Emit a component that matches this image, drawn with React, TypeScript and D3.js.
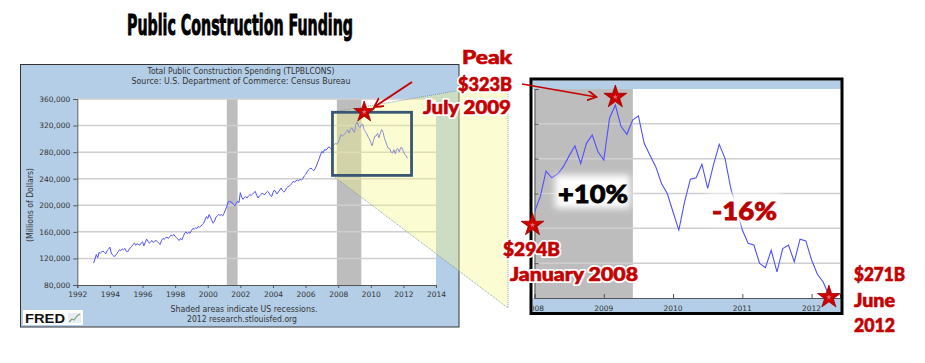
import React, { useEffect, useRef } from 'react'
import * as d3 from 'd3'

// Total Public Construction Spending, monthly, millions of dollars
const spending1993to1997 = [
  113000, 119000, 126000, 121000, 129000, 128000, 130000, 131000, 129000, 127000, 132000, 134000,
  137000, 128000, 125000, 123000, 124000, 127000, 130000, 133000, 132000, 134000, 133000, 135000,
  131000, 130000, 133000, 136000, 138000, 141000, 143000, 140000, 142000, 141000, 140000, 143000,
  145000, 139000, 144000, 149000, 146000, 143000, 145000, 147000, 144000, 146000, 147000, 145000,
  143000, 141000, 147000, 150000, 149000, 151000, 152000, 150000, 153000, 155000, 154000, 156000,
]
const spending1998to2002 = [
  153000, 151000, 149000, 147000, 150000, 148000, 153000, 158000, 160000, 157000, 159000, 158000,
  162000, 165000, 164000, 166000, 165000, 168000, 167000, 169000, 171000, 173000, 178000, 183000,
  180000, 186000, 182000, 177000, 173000, 176000, 182000, 184000, 186000, 185000, 186000, 184000,
  188000, 193000, 198000, 205000, 206000, 205000, 204000, 201000, 199000, 203000, 206000, 204000,
  219000, 212000, 209000, 212000, 213000, 211000, 214000, 216000, 215000, 217000, 219000, 221000,
]
const spending2003to2007 = [
  215000, 211000, 214000, 216000, 218000, 217000, 216000, 219000, 221000, 219000, 215000, 213000,
  219000, 223000, 220000, 217000, 220000, 223000, 226000, 222000, 220000, 222000, 226000, 228000,
  229000, 231000, 233000, 236000, 235000, 237000, 238000, 237000, 239000, 238000, 240000, 244000,
  246000, 250000, 253000, 255000, 256000, 254000, 252000, 255000, 259000, 265000, 270000, 276000,
  281000, 279000, 284000, 283000, 285000, 288000, 287000, 284000, 289000, 291000, 293000, 292000,
]
const spending2008to2012 = [
  294700, 299100, 306400, 304500, 305600, 307700, 310800, 313700, 308600, 314400, 316800, 312000,
  309600, 321600, 325400, 319200, 317000, 321100, 322300, 314400, 311000, 307700, 302900, 300000,
  294700, 289500, 297600, 304100, 304500, 308400, 301500, 308200, 314100, 310100, 301500, 295700,
  289500, 285700, 285200, 279900, 278700, 283700, 277500, 284200, 285200, 280400, 286900, 286400,
  280900, 276800, 274600, 270800,
]
const firstYear = 1993

const recessions = [[2001.17, 2001.83], [2007.92, 2009.42]]
const mainYTicks = [80000, 120000, 160000, 200000, 240000, 280000, 320000, 360000]
const mainXTicks = [1992, 1994, 1996, 1998, 2000, 2002, 2004, 2006, 2008, 2010, 2012, 2014]
const zoomYTicks = [270000, 280000, 290000, 300000, 310000, 320000, 330000]
const zoomXTicks = [2008, 2009, 2010, 2011, 2012]
const zoomWindow = { from: 2007.65, to: 2012.5, low: 245000, high: 340000 }

const red = '#c40000'

export default function App() {
  const ref = useRef<SVGSVGElement>(null)

  useEffect(() => {
    const svg = d3.select(ref.current)
    svg.selectAll('*').remove()

    const series = [...spending1993to1997, ...spending1998to2002, ...spending2003to2007, ...spending2008to2012]
      .map((v, i) => ({ t: firstYear + i / 12, v }))
    const fmt = d3.format(',')
    const defs = svg.append('defs')

    defs.append('filter').attr('id', 'glow').attr('x', '-30%').attr('y', '-30%').attr('width', '160%').attr('height', '160%')
      .append('feGaussianBlur').attr('stdDeviation', 3.5)
    defs.append('marker').attr('id', 'arrowRed')
      .attr('markerUnits', 'userSpaceOnUse').attr('markerWidth', 12).attr('markerHeight', 12)
      .attr('refX', 9).attr('refY', 5).attr('orient', 'auto')
      .append('path').attr('d', 'M0,0 L9,5 L0,10').attr('fill', 'none').attr('stroke', red).attr('stroke-width', 1.8)
    defs.append('clipPath').attr('id', 'zoomClip')
      .append('rect').attr('x', 532.5).attr('y', 80.5).attr('width', 309).attr('height', 232)
    defs.append('clipPath').attr('id', 'zoomPlot')
      .append('rect').attr('x', 534.5).attr('y', 89).attr('width', 305.5).attr('height', 209)

    const text = (g: any, s: string, x: number, y: number, size: number, opts: any = {}) =>
      g.append('text').attr('x', x).attr('y', y).text(s)
        .attr('font-size', size)
        .attr('font-family', opts.family || 'DejaVu Sans, Verdana, sans-serif')
        .attr('font-weight', opts.weight || 'normal')
        .attr('fill', opts.fill || '#333')
        .attr('text-anchor', opts.anchor || 'middle')
        .attr('textLength', opts.len || null)
        .attr('lengthAdjust', opts.len ? 'spacingAndGlyphs' : null)

    // heading
    text(svg, 'Public Construction Funding', 240, 35, 29,
      { family: 'DejaVu Sans Condensed, DejaVu Sans', weight: 'bold', fill: '#000', len: 226 })
      .attr('stroke', '#000').attr('stroke-width', 0.9)

    // ---- FRED chart on the left
    const x = d3.scaleLinear().domain([1992, 2014]).range([77.3, 436])
    const y = d3.scaleLinear().domain([80000, 360000]).range([285, 99])
    const left = svg.append('g')

    left.append('rect').attr('x', 20.5).attr('y', 64.5).attr('width', 438.5).attr('height', 262.5)
      .attr('fill', '#b5cee7').attr('stroke', '#333').attr('stroke-width', 1)
    text(left, 'Total Public Construction Spending (TLPBLCONS)', 241, 74, 8, { len: 187 })
    text(left, 'Source: U.S. Department of Commerce: Census Bureau', 241, 84, 8, { len: 219 })

    left.append('rect').attr('x', x(1992)).attr('y', y(360000))
      .attr('width', x(2014) - x(1992)).attr('height', y(80000) - y(360000)).attr('fill', '#fff')
    left.selectAll('.rec').data(recessions).enter().append('rect')
      .attr('x', d => x(d[0])).attr('width', d => x(d[1]) - x(d[0]))
      .attr('y', y(360000)).attr('height', y(80000) - y(360000)).attr('fill', '#bdbdbd')
    left.selectAll('.grid').data(mainYTicks.slice(1)).enter().append('line')
      .attr('x1', x(1992)).attr('x2', x(2014)).attr('y1', d => y(d)).attr('y2', d => y(d))
      .attr('stroke', '#cfcfcf').attr('stroke-width', 1.5)

    const yAxis = left.append('g').attr('transform', `translate(${x(1992)},0)`)
      .call(d3.axisLeft(y).tickValues(mainYTicks).tickFormat(d => fmt(d as number)).tickSize(4).tickPadding(3))
    const xAxis = left.append('g').attr('transform', `translate(0,${y(80000)})`)
      .call(d3.axisBottom(x).tickValues(mainXTicks).tickFormat(d3.format('d')).tickSize(3).tickPadding(4))
    ;[yAxis, xAxis].forEach(a => {
      a.select('.domain').attr('stroke', '#555')
      a.selectAll('.tick line').attr('stroke', '#555')
      a.selectAll('text').attr('font-size', 7.5).attr('font-family', 'DejaVu Sans, Verdana, sans-serif').attr('fill', '#333')
    })

    left.append('path').datum(series)
      .attr('d', d3.line<any>().x(d => x(d.t)).y(d => y(d.v)))
      .attr('fill', 'none').attr('stroke', '#5050ff').attr('stroke-width', 1)

    text(left, '(Millions of Dollars)', 0, 0, 8, { len: 74 })
      .attr('transform', 'translate(33,205) rotate(-90)')
    text(left, 'Shaded areas indicate US recessions.', 244, 312, 8, { len: 147 })
    text(left, '2012 research.stlouisfed.org', 242, 322, 8, { len: 110 })

    const fred = left.append('g')
    fred.append('rect').attr('x', 23).attr('y', 310).attr('width', 60).attr('height', 15).attr('fill', '#fff')
    text(fred, 'FRED', 25, 323, 13, { weight: 'bold', fill: '#111', anchor: 'start', family: 'Liberation Sans, Arial', len: 40 })
    fred.append('rect').attr('x', 68).attr('y', 313).attr('width', 13).attr('height', 10).attr('fill', '#e6edf3')
    fred.append('polyline').attr('points', '69,322 72,319 74,320 77,316 80,314')
      .attr('fill', 'none').attr('stroke', '#7fa37a').attr('stroke-width', 1.2)

    // ---- zoom funnel
    const boxL = x(zoomWindow.from), boxR = x(zoomWindow.to)
    const boxT = y(zoomWindow.high), boxB = y(zoomWindow.low)
    const funnel = [[boxL, boxT], [508, 82], [508, 308], [boxL, boxB]]
    svg.append('polygon').attr('points', funnel.map(p => p.join(',')).join(' '))
      .attr('fill', '#f4f78a').attr('fill-opacity', 0.38)
    svg.append('path').attr('d', d3.line()(funnel as any))
      .attr('fill', 'none').attr('stroke', '#6f8aa6').attr('stroke-width', 0.8).attr('stroke-dasharray', '1,1')

    svg.append('rect').attr('x', boxL).attr('y', boxT).attr('width', boxR - boxL).attr('height', boxB - boxT)
      .attr('fill', 'none').attr('stroke', '#3a5677').attr('stroke-width', 2.8)

    const star = (g: any, cx: number, cy: number, r: number) => {
      g.append('path').attr('d', d3.symbol().type(d3.symbolStar).size(r * r / 0.8908)())
        .attr('transform', `translate(${cx},${cy})`).attr('fill', '#cc0000').attr('stroke', '#a00000').attr('stroke-width', 0.8)
      g.append('path').attr('d', d3.symbol().type(d3.symbolStar).size(9)())
        .attr('transform', `translate(${cx},${cy})`).attr('fill', '#e07070')
    }
    const peak = series.reduce((a, b) => (b.v > a.v ? b : a))
    star(svg, x(peak.t) + 7, y(peak.v) - 10, 11)
    svg.append('line').attr('x1', 412).attr('y1', 82).attr('x2', x(peak.t) + 17).attr('y2', y(peak.v) - 15)
      .attr('stroke', red).attr('stroke-width', 2).attr('marker-end', 'url(#arrowRed)')

    // ---- zoomed chart on the right
    const xz = d3.scaleLinear().domain([2008, 2012.41]).range([534.5, 840])
    const yz = d3.scaleLinear().domain([270000, 330000]).range([298, 89])
    const right = svg.append('g')
    const inner = right.append('g').attr('clip-path', 'url(#zoomClip)')
    inner.append('rect').attr('x', 531).attr('y', 79).attr('width', 311).attr('height', 235).attr('fill', '#fff')
    inner.append('rect').attr('x', 531).attr('y', 79).attr('width', 311).attr('height', yz(330000) - 79).attr('fill', '#b5cee7')
    inner.append('rect').attr('x', 531).attr('y', yz(270000)).attr('width', 311).attr('height', 314 - yz(270000)).attr('fill', '#b5cee7')
    inner.append('rect').attr('x', xz(2008)).attr('y', yz(330000))
      .attr('width', xz(recessions[1][1]) - xz(2008)).attr('height', yz(270000) - yz(330000)).attr('fill', '#bdbdbd')
    inner.selectAll('.zgrid').data(zoomYTicks.slice(1, -1)).enter().append('line')
      .attr('x1', xz(2008)).attr('x2', 840).attr('y1', d => yz(d)).attr('y2', d => yz(d))
      .attr('stroke', '#cfcfcf').attr('stroke-width', 1.5)
    inner.append('g').attr('transform', `translate(${xz(2008)},0)`)
      .call(d3.axisRight(yz).tickValues(zoomYTicks).tickSize(4).tickFormat(() => ''))
      .call(a => a.selectAll('line,path').attr('stroke', '#555'))
    inner.append('g').attr('transform', `translate(0,${yz(270000)})`)
      .call(d3.axisTop(xz).tickValues(zoomXTicks).tickSize(4).tickFormat(() => ''))
      .call(a => a.selectAll('line,path').attr('stroke', '#555'))
    zoomXTicks.forEach(t => text(inner, String(t), xz(t), 311, 7.5))

    inner.append('path').datum(series.filter(d => d.t >= 2008))
      .attr('clip-path', 'url(#zoomPlot)')
      .attr('d', d3.line<any>().x(d => xz(d.t)).y(d => yz(d.v)))
      .attr('fill', 'none').attr('stroke', '#5050ff').attr('stroke-width', 1.1)

    right.append('rect').attr('x', 531).attr('y', 79).attr('width', 311).attr('height', 234.5)
      .attr('fill', 'none').attr('stroke', '#000').attr('stroke-width', 3)

    // percent callouts
    right.append('rect').attr('x', 555).attr('y', 175).attr('width', 75).attr('height', 33)
      .attr('fill', '#fff').attr('filter', 'url(#glow)')
    right.append('rect').attr('x', 709).attr('y', 194).attr('width', 72).attr('height', 29)
      .attr('fill', '#fff').attr('filter', 'url(#glow)')
    text(right, '+10%', 593, 203, 25, { weight: 900, fill: '#000', family: 'Lato, DejaVu Sans', len: 70 })
      .attr('stroke', '#000').attr('stroke-width', 0.8)
    text(right, '-16%', 744.5, 220, 25, { weight: 900, fill: '#bb0000', family: 'Lato, DejaVu Sans', len: 65 })
      .attr('stroke', '#bb0000').attr('stroke-width', 0.8)

    const zStart = series.find(d => d.t >= 2008)!
    const zEnd = series[series.length - 1]
    const zPeak = series.filter(d => d.t >= 2008).reduce((a, b) => (b.v > a.v ? b : a))
    star(svg, xz(zStart.t) - 2, yz(zStart.v) + 13, 12)
    star(svg, xz(zPeak.t), yz(zPeak.v) - 8, 12)
    star(svg, xz(zEnd.t), yz(zEnd.v) + 2, 12)
    svg.append('line').attr('x1', 522).attr('y1', 84).attr('x2', xz(zPeak.t) - 19).attr('y2', yz(zPeak.v) - 8)
      .attr('stroke', red).attr('stroke-width', 1.6).attr('marker-end', 'url(#arrowRed)')

    // red labels
    const notes: [string, number, number, number, string][] = [
      ['Peak', 512, 64, 50, 'end'],
      ['$323B', 512, 91, 54, 'end'],
      ['July 2009', 511, 114, 88, 'end'],
      ['$294B', 503, 256, 57, 'start'],
      ['January 2008', 510, 281, 128, 'start'],
      ['$271B', 854, 281, 51, 'start'],
      ['June', 854, 307, 41, 'start'],
      ['2012', 854, 332, 41, 'start'],
    ]
    notes.forEach(([s, nx, ny, len, anchor]) => {
      const opts = { weight: 900, family: 'Lato, DejaVu Sans', anchor, len }
      text(svg, s, nx, ny, 18, { ...opts, fill: '#fff' })
        .attr('stroke', '#fff').attr('stroke-width', 4).attr('stroke-linejoin', 'round')
      text(svg, s, nx, ny, 18, { ...opts, fill: red })
        .attr('stroke', red).attr('stroke-width', 0.6)
    })
  }, [])

  return (
    <svg ref={ref} width={925} height={363}
      style={{ position: 'absolute', left: 0, top: 0, background: '#fff' }} />
  )
}
